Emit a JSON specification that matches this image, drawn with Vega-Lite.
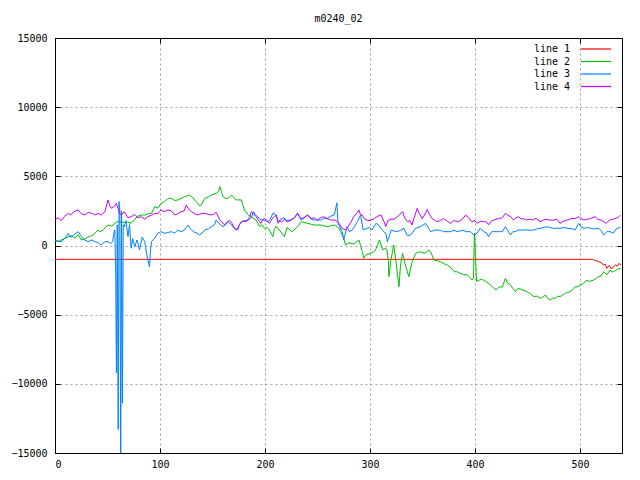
{
  "$schema": "https://vega.github.io/schema/vega-lite/v6.json",
  "width": 567,
  "height": 415,
  "autosize": "none",
  "padding": {"left": 55, "top": 38, "right": 18, "bottom": 27},
  "background": "white",
  "title": {"text": "m0240_02", "font": "DejaVu Sans Mono", "fontSize": 10, "fontWeight": "normal", "color": "black", "offset": 9},
  "config": {
    "view": {"stroke": "black", "strokeWidth": 1},
    "axis": {
      "labelFont": "DejaVu Sans Mono", "labelFontSize": 10, "labelColor": "black",
      "domainColor": "black", "tickColor": "black", "tickSize": -5,
      "gridColor": "#a0a0a0", "gridDash": [2, 3], "gridWidth": 1, "title": null
    },
    "legend": {"labelFont": "DejaVu Sans Mono", "labelFontSize": 10, "labelColor": "black", "padding": 0}
  },
  "data": {"values": [
      {"s": "line 1", "x": 0, "y": -1000}, {"s": "line 1", "x": 512, "y": -1000}, {"s": "line 1", "x": 515, "y": -1100}, {"s": "line 1", "x": 518, "y": -1170},
      {"s": "line 1", "x": 520, "y": -1250}, {"s": "line 1", "x": 522.5, "y": -1410}, {"s": "line 1", "x": 524, "y": -1350}, {"s": "line 1", "x": 525.5, "y": -1650},
      {"s": "line 1", "x": 528, "y": -1450}, {"s": "line 1", "x": 530, "y": -1700}, {"s": "line 1", "x": 532, "y": -1530}, {"s": "line 1", "x": 534, "y": -1400},
      {"s": "line 1", "x": 535.5, "y": -1500}, {"s": "line 1", "x": 537, "y": -1300}, {"s": "line 1", "x": 539, "y": -1400},
      {"s": "line 2", "x": 0, "y": 350}, {"s": "line 2", "x": 3, "y": 300}, {"s": "line 2", "x": 6, "y": 400}, {"s": "line 2", "x": 9, "y": 500}, {"s": "line 2", "x": 12.7, "y": 640},
      {"s": "line 2", "x": 16, "y": 700}, {"s": "line 2", "x": 19, "y": 520}, {"s": "line 2", "x": 22, "y": 800}, {"s": "line 2", "x": 25, "y": 400}, {"s": "line 2", "x": 28, "y": 450},
      {"s": "line 2", "x": 31.6, "y": 640}, {"s": "line 2", "x": 35, "y": 700}, {"s": "line 2", "x": 38, "y": 880}, {"s": "line 2", "x": 41, "y": 1120}, {"s": "line 2", "x": 43, "y": 1000},
      {"s": "line 2", "x": 46, "y": 1150}, {"s": "line 2", "x": 50.5, "y": 1480}, {"s": "line 2", "x": 54, "y": 1400}, {"s": "line 2", "x": 57, "y": 1600}, {"s": "line 2", "x": 60, "y": 1750},
      {"s": "line 2", "x": 63, "y": 1700}, {"s": "line 2", "x": 66, "y": 1650}, {"s": "line 2", "x": 69, "y": 1700}, {"s": "line 2", "x": 72.5, "y": 1600}, {"s": "line 2", "x": 76, "y": 1900},
      {"s": "line 2", "x": 79, "y": 2130}, {"s": "line 2", "x": 82, "y": 2200}, {"s": "line 2", "x": 85.5, "y": 2200}, {"s": "line 2", "x": 89, "y": 2300}, {"s": "line 2", "x": 92, "y": 2328},
      {"s": "line 2", "x": 95, "y": 2806}, {"s": "line 2", "x": 98, "y": 2700}, {"s": "line 2", "x": 101, "y": 3050}, {"s": "line 2", "x": 104.5, "y": 3170}, {"s": "line 2", "x": 107.5, "y": 3410},
      {"s": "line 2", "x": 110.8, "y": 3410}, {"s": "line 2", "x": 114, "y": 3250}, {"s": "line 2", "x": 117, "y": 3290}, {"s": "line 2", "x": 120, "y": 3400}, {"s": "line 2", "x": 123.5, "y": 3530},
      {"s": "line 2", "x": 128, "y": 3650}, {"s": "line 2", "x": 130.5, "y": 3500}, {"s": "line 2", "x": 133, "y": 3290}, {"s": "line 2", "x": 135.5, "y": 3100}, {"s": "line 2", "x": 137.7, "y": 2850},
      {"s": "line 2", "x": 140, "y": 3000}, {"s": "line 2", "x": 142.5, "y": 3410}, {"s": "line 2", "x": 146, "y": 3500}, {"s": "line 2", "x": 149, "y": 3650}, {"s": "line 2", "x": 153.5, "y": 3770},
      {"s": "line 2", "x": 155.5, "y": 3900}, {"s": "line 2", "x": 157, "y": 4250}, {"s": "line 2", "x": 160, "y": 3530}, {"s": "line 2", "x": 162.5, "y": 3400}, {"s": "line 2", "x": 165, "y": 3410},
      {"s": "line 2", "x": 168, "y": 3650}, {"s": "line 2", "x": 170, "y": 3500}, {"s": "line 2", "x": 172.5, "y": 3290}, {"s": "line 2", "x": 175, "y": 3300}, {"s": "line 2", "x": 177.5, "y": 3290},
      {"s": "line 2", "x": 180.5, "y": 2567}, {"s": "line 2", "x": 184, "y": 2205}, {"s": "line 2", "x": 187, "y": 2085}, {"s": "line 2", "x": 191.5, "y": 1840}, {"s": "line 2", "x": 195, "y": 1360},
      {"s": "line 2", "x": 197, "y": 1500}, {"s": "line 2", "x": 199.4, "y": 1240}, {"s": "line 2", "x": 202, "y": 1300}, {"s": "line 2", "x": 204, "y": 1120}, {"s": "line 2", "x": 207.5, "y": 640},
      {"s": "line 2", "x": 209, "y": 1200}, {"s": "line 2", "x": 210.5, "y": 1400}, {"s": "line 2", "x": 213.5, "y": 1120}, {"s": "line 2", "x": 216, "y": 900}, {"s": "line 2", "x": 218.5, "y": 640},
      {"s": "line 2", "x": 221, "y": 1300}, {"s": "line 2", "x": 226, "y": 1000}, {"s": "line 2", "x": 231, "y": 1360}, {"s": "line 2", "x": 234.5, "y": 1720}, {"s": "line 2", "x": 240.6, "y": 1600},
      {"s": "line 2", "x": 247, "y": 1480}, {"s": "line 2", "x": 253, "y": 1480}, {"s": "line 2", "x": 259, "y": 1360}, {"s": "line 2", "x": 266, "y": 1480}, {"s": "line 2", "x": 270, "y": 1300},
      {"s": "line 2", "x": 272, "y": 1000}, {"s": "line 2", "x": 275, "y": 500}, {"s": "line 2", "x": 276.7, "y": 36}, {"s": "line 2", "x": 280, "y": 200}, {"s": "line 2", "x": 284.5, "y": 100},
      {"s": "line 2", "x": 289.5, "y": 400}, {"s": "line 2", "x": 291, "y": 0}, {"s": "line 2", "x": 292.6, "y": -445}, {"s": "line 2", "x": 294, "y": -930}, {"s": "line 2", "x": 296, "y": -700},
      {"s": "line 2", "x": 299, "y": -600}, {"s": "line 2", "x": 304, "y": -450}, {"s": "line 2", "x": 306, "y": -200}, {"s": "line 2", "x": 309, "y": 400}, {"s": "line 2", "x": 312, "y": -300},
      {"s": "line 2", "x": 315, "y": -200}, {"s": "line 2", "x": 316, "y": -300}, {"s": "line 2", "x": 317.5, "y": -1100}, {"s": "line 2", "x": 318, "y": -2255}, {"s": "line 2", "x": 320, "y": -1000},
      {"s": "line 2", "x": 321.3, "y": -500}, {"s": "line 2", "x": 322.5, "y": 36}, {"s": "line 2", "x": 324.5, "y": -1000}, {"s": "line 2", "x": 326, "y": -2000}, {"s": "line 2", "x": 327.6, "y": -2980},
      {"s": "line 2", "x": 329, "y": -1500}, {"s": "line 2", "x": 331, "y": -565}, {"s": "line 2", "x": 334, "y": -1500}, {"s": "line 2", "x": 337, "y": -2255}, {"s": "line 2", "x": 340, "y": -1200},
      {"s": "line 2", "x": 343.5, "y": -565}, {"s": "line 2", "x": 348, "y": -450}, {"s": "line 2", "x": 352, "y": -565}, {"s": "line 2", "x": 356, "y": -325}, {"s": "line 2", "x": 358, "y": -500},
      {"s": "line 2", "x": 361, "y": -1050}, {"s": "line 2", "x": 364, "y": -1100}, {"s": "line 2", "x": 367, "y": -1170}, {"s": "line 2", "x": 370, "y": -1300}, {"s": "line 2", "x": 373.5, "y": -1410},
      {"s": "line 2", "x": 377, "y": -1600}, {"s": "line 2", "x": 380, "y": -1895}, {"s": "line 2", "x": 383, "y": -1900}, {"s": "line 2", "x": 386, "y": -2015}, {"s": "line 2", "x": 389, "y": -2100},
      {"s": "line 2", "x": 392.6, "y": -2130}, {"s": "line 2", "x": 395, "y": -2300}, {"s": "line 2", "x": 397, "y": -2500}, {"s": "line 2", "x": 398.5, "y": -2400}, {"s": "line 2", "x": 399.5, "y": 900},
      {"s": "line 2", "x": 400.5, "y": -800}, {"s": "line 2", "x": 401.5, "y": -2600}, {"s": "line 2", "x": 404, "y": -2500}, {"s": "line 2", "x": 406, "y": -2450}, {"s": "line 2", "x": 408.4, "y": -2500},
      {"s": "line 2", "x": 410, "y": -2600}, {"s": "line 2", "x": 413, "y": -2740}, {"s": "line 2", "x": 415.5, "y": -2900}, {"s": "line 2", "x": 418, "y": -3095}, {"s": "line 2", "x": 420, "y": -3200},
      {"s": "line 2", "x": 422.7, "y": -3000}, {"s": "line 2", "x": 426, "y": -3000}, {"s": "line 2", "x": 429, "y": -2370}, {"s": "line 2", "x": 431, "y": -2700}, {"s": "line 2", "x": 433.7, "y": -2850},
      {"s": "line 2", "x": 436, "y": -3100}, {"s": "line 2", "x": 438.4, "y": -3335}, {"s": "line 2", "x": 441, "y": -3100}, {"s": "line 2", "x": 445, "y": -3200}, {"s": "line 2", "x": 449.5, "y": -3340},
      {"s": "line 2", "x": 453, "y": -3500}, {"s": "line 2", "x": 456, "y": -3700}, {"s": "line 2", "x": 459, "y": -3650}, {"s": "line 2", "x": 462, "y": -3820}, {"s": "line 2", "x": 464.5, "y": -3750},
      {"s": "line 2", "x": 467, "y": -3580}, {"s": "line 2", "x": 469, "y": -3800}, {"s": "line 2", "x": 471.7, "y": -3940}, {"s": "line 2", "x": 474, "y": -3800}, {"s": "line 2", "x": 476.5, "y": -3820},
      {"s": "line 2", "x": 479, "y": -3650}, {"s": "line 2", "x": 481, "y": -3700}, {"s": "line 2", "x": 484, "y": -3550}, {"s": "line 2", "x": 486, "y": -3460}, {"s": "line 2", "x": 488, "y": -3400},
      {"s": "line 2", "x": 490.7, "y": -3340}, {"s": "line 2", "x": 493, "y": -3200}, {"s": "line 2", "x": 495.5, "y": -2980}, {"s": "line 2", "x": 498, "y": -3000}, {"s": "line 2", "x": 500, "y": -2860},
      {"s": "line 2", "x": 503, "y": -2750}, {"s": "line 2", "x": 506.6, "y": -2500}, {"s": "line 2", "x": 509, "y": -2600}, {"s": "line 2", "x": 512.8, "y": -2500}, {"s": "line 2", "x": 515, "y": -2400},
      {"s": "line 2", "x": 517.6, "y": -2255}, {"s": "line 2", "x": 520, "y": -2200}, {"s": "line 2", "x": 522.5, "y": -1895}, {"s": "line 2", "x": 524, "y": -2000}, {"s": "line 2", "x": 525.5, "y": -2130},
      {"s": "line 2", "x": 528.6, "y": -1770}, {"s": "line 2", "x": 530, "y": -1900}, {"s": "line 2", "x": 531.8, "y": -1895}, {"s": "line 2", "x": 534, "y": -1800}, {"s": "line 2", "x": 536, "y": -1700},
      {"s": "line 2", "x": 538.5, "y": -1650},
      {"s": "line 3", "x": 0, "y": 400}, {"s": "line 3", "x": 3, "y": 300}, {"s": "line 3", "x": 6, "y": 280}, {"s": "line 3", "x": 9, "y": 500}, {"s": "line 3", "x": 12.7, "y": 880},
      {"s": "line 3", "x": 15, "y": 600}, {"s": "line 3", "x": 17.4, "y": 700}, {"s": "line 3", "x": 20, "y": 900}, {"s": "line 3", "x": 22, "y": 1000}, {"s": "line 3", "x": 24, "y": 800},
      {"s": "line 3", "x": 25.3, "y": 640}, {"s": "line 3", "x": 28, "y": 400}, {"s": "line 3", "x": 31.6, "y": 280}, {"s": "line 3", "x": 35, "y": 400}, {"s": "line 3", "x": 38, "y": 280},
      {"s": "line 3", "x": 41, "y": 200}, {"s": "line 3", "x": 44, "y": 36}, {"s": "line 3", "x": 47, "y": 250}, {"s": "line 3", "x": 50.5, "y": 280}, {"s": "line 3", "x": 53, "y": 150},
      {"s": "line 3", "x": 55, "y": 280}, {"s": "line 3", "x": 56, "y": 900}, {"s": "line 3", "x": 57, "y": 1120}, {"s": "line 3", "x": 57.8, "y": -2000}, {"s": "line 3", "x": 58.5, "y": -9200},
      {"s": "line 3", "x": 59.3, "y": 1500}, {"s": "line 3", "x": 60.2, "y": -13300}, {"s": "line 3", "x": 61, "y": 3170}, {"s": "line 3", "x": 61.8, "y": 2500}, {"s": "line 3", "x": 62.6, "y": -15500},
      {"s": "line 3", "x": 63.4, "y": 2500}, {"s": "line 3", "x": 64.2, "y": -11400}, {"s": "line 3", "x": 65, "y": 1500}, {"s": "line 3", "x": 66, "y": 1360}, {"s": "line 3", "x": 67.5, "y": 1800},
      {"s": "line 3", "x": 69.5, "y": 640}, {"s": "line 3", "x": 71, "y": 1500}, {"s": "line 3", "x": 72.5, "y": -200}, {"s": "line 3", "x": 74, "y": 500}, {"s": "line 3", "x": 76, "y": -100},
      {"s": "line 3", "x": 78, "y": 400}, {"s": "line 3", "x": 80.5, "y": -300}, {"s": "line 3", "x": 83, "y": 600}, {"s": "line 3", "x": 85.5, "y": 280}, {"s": "line 3", "x": 87, "y": -500},
      {"s": "line 3", "x": 88.5, "y": -1050}, {"s": "line 3", "x": 90, "y": -1530}, {"s": "line 3", "x": 91, "y": -300}, {"s": "line 3", "x": 92, "y": 300}, {"s": "line 3", "x": 95, "y": 520},
      {"s": "line 3", "x": 98, "y": 900}, {"s": "line 3", "x": 101, "y": 1000}, {"s": "line 3", "x": 104.5, "y": 880}, {"s": "line 3", "x": 107.5, "y": 940}, {"s": "line 3", "x": 110.8, "y": 1000},
      {"s": "line 3", "x": 114, "y": 900}, {"s": "line 3", "x": 117, "y": 1120}, {"s": "line 3", "x": 120, "y": 1000}, {"s": "line 3", "x": 123, "y": 1100}, {"s": "line 3", "x": 126.6, "y": 1480},
      {"s": "line 3", "x": 129, "y": 1200}, {"s": "line 3", "x": 132, "y": 1000}, {"s": "line 3", "x": 135, "y": 900}, {"s": "line 3", "x": 137.7, "y": 760}, {"s": "line 3", "x": 140, "y": 900},
      {"s": "line 3", "x": 142.5, "y": 1120}, {"s": "line 3", "x": 146, "y": 1200}, {"s": "line 3", "x": 149, "y": 1360}, {"s": "line 3", "x": 152, "y": 1500}, {"s": "line 3", "x": 153.5, "y": 1840},
      {"s": "line 3", "x": 156, "y": 1600}, {"s": "line 3", "x": 160, "y": 1360}, {"s": "line 3", "x": 162.5, "y": 1500}, {"s": "line 3", "x": 165, "y": 1720}, {"s": "line 3", "x": 168, "y": 1480},
      {"s": "line 3", "x": 170, "y": 1300}, {"s": "line 3", "x": 172.5, "y": 1120}, {"s": "line 3", "x": 175, "y": 1400}, {"s": "line 3", "x": 177.5, "y": 1720}, {"s": "line 3", "x": 181, "y": 1800},
      {"s": "line 3", "x": 184, "y": 1840}, {"s": "line 3", "x": 187, "y": 2000}, {"s": "line 3", "x": 189, "y": 2444}, {"s": "line 3", "x": 191, "y": 2200}, {"s": "line 3", "x": 193, "y": 2085},
      {"s": "line 3", "x": 195, "y": 1900}, {"s": "line 3", "x": 198, "y": 1840}, {"s": "line 3", "x": 200, "y": 1800}, {"s": "line 3", "x": 202.5, "y": 1720}, {"s": "line 3", "x": 205, "y": 1900},
      {"s": "line 3", "x": 207.5, "y": 2328}, {"s": "line 3", "x": 209, "y": 2328}, {"s": "line 3", "x": 210.5, "y": 2085}, {"s": "line 3", "x": 213, "y": 1720}, {"s": "line 3", "x": 215, "y": 1900},
      {"s": "line 3", "x": 218, "y": 2000}, {"s": "line 3", "x": 221, "y": 1800}, {"s": "line 3", "x": 224.7, "y": 1840}, {"s": "line 3", "x": 228, "y": 2000}, {"s": "line 3", "x": 231, "y": 2328},
      {"s": "line 3", "x": 234.5, "y": 1840}, {"s": "line 3", "x": 237, "y": 2000}, {"s": "line 3", "x": 240.6, "y": 2205}, {"s": "line 3", "x": 244, "y": 1900}, {"s": "line 3", "x": 247, "y": 1840},
      {"s": "line 3", "x": 250, "y": 1840}, {"s": "line 3", "x": 253.5, "y": 1840}, {"s": "line 3", "x": 256, "y": 1950}, {"s": "line 3", "x": 259, "y": 1950}, {"s": "line 3", "x": 262, "y": 2100},
      {"s": "line 3", "x": 266, "y": 2205}, {"s": "line 3", "x": 268.5, "y": 3090}, {"s": "line 3", "x": 269.5, "y": 1600}, {"s": "line 3", "x": 271, "y": 1400}, {"s": "line 3", "x": 273.5, "y": 1000},
      {"s": "line 3", "x": 275, "y": 400}, {"s": "line 3", "x": 278, "y": 1360}, {"s": "line 3", "x": 280.5, "y": 1000}, {"s": "line 3", "x": 283, "y": 1120}, {"s": "line 3", "x": 285.5, "y": 1400},
      {"s": "line 3", "x": 288, "y": 1720}, {"s": "line 3", "x": 291, "y": 2205}, {"s": "line 3", "x": 293.5, "y": 1120}, {"s": "line 3", "x": 297, "y": 1240}, {"s": "line 3", "x": 299.5, "y": 1300},
      {"s": "line 3", "x": 302, "y": 1120}, {"s": "line 3", "x": 305.6, "y": 1600}, {"s": "line 3", "x": 308, "y": 1500}, {"s": "line 3", "x": 310.5, "y": 1240}, {"s": "line 3", "x": 313, "y": 1000},
      {"s": "line 3", "x": 315, "y": 900}, {"s": "line 3", "x": 316.6, "y": 275}, {"s": "line 3", "x": 318.5, "y": 700}, {"s": "line 3", "x": 320, "y": 1100}, {"s": "line 3", "x": 326, "y": 1000},
      {"s": "line 3", "x": 329, "y": 1100}, {"s": "line 3", "x": 332.4, "y": 1240}, {"s": "line 3", "x": 335.5, "y": 700}, {"s": "line 3", "x": 338.7, "y": 760}, {"s": "line 3", "x": 343.5, "y": 1240},
      {"s": "line 3", "x": 348, "y": 1360}, {"s": "line 3", "x": 353, "y": 1600}, {"s": "line 3", "x": 357.7, "y": 1000}, {"s": "line 3", "x": 362, "y": 1120}, {"s": "line 3", "x": 367, "y": 1100},
      {"s": "line 3", "x": 370, "y": 1000}, {"s": "line 3", "x": 376.7, "y": 1000}, {"s": "line 3", "x": 380, "y": 1100}, {"s": "line 3", "x": 383, "y": 1000}, {"s": "line 3", "x": 388, "y": 1100},
      {"s": "line 3", "x": 392, "y": 1000}, {"s": "line 3", "x": 395.5, "y": 1000}, {"s": "line 3", "x": 399, "y": 760}, {"s": "line 3", "x": 402, "y": 900}, {"s": "line 3", "x": 405, "y": 1240},
      {"s": "line 3", "x": 408.4, "y": 1000}, {"s": "line 3", "x": 411, "y": 900}, {"s": "line 3", "x": 413, "y": 640}, {"s": "line 3", "x": 416, "y": 1000}, {"s": "line 3", "x": 419, "y": 1000},
      {"s": "line 3", "x": 422.7, "y": 1000}, {"s": "line 3", "x": 426, "y": 1000}, {"s": "line 3", "x": 429, "y": 1360}, {"s": "line 3", "x": 431, "y": 1100}, {"s": "line 3", "x": 433.7, "y": 760},
      {"s": "line 3", "x": 436, "y": 1000}, {"s": "line 3", "x": 438.4, "y": 1000}, {"s": "line 3", "x": 441, "y": 1120}, {"s": "line 3", "x": 445, "y": 1120}, {"s": "line 3", "x": 449.5, "y": 1120},
      {"s": "line 3", "x": 453, "y": 1100}, {"s": "line 3", "x": 456, "y": 1120}, {"s": "line 3", "x": 459, "y": 1200}, {"s": "line 3", "x": 462, "y": 1240}, {"s": "line 3", "x": 465, "y": 1300},
      {"s": "line 3", "x": 468, "y": 1360}, {"s": "line 3", "x": 471, "y": 1300}, {"s": "line 3", "x": 475, "y": 1240}, {"s": "line 3", "x": 479, "y": 1250}, {"s": "line 3", "x": 481, "y": 1240},
      {"s": "line 3", "x": 485, "y": 1300}, {"s": "line 3", "x": 489, "y": 1240}, {"s": "line 3", "x": 493, "y": 1200}, {"s": "line 3", "x": 495.5, "y": 1120}, {"s": "line 3", "x": 498.7, "y": 1600},
      {"s": "line 3", "x": 501, "y": 1350}, {"s": "line 3", "x": 504, "y": 1240}, {"s": "line 3", "x": 507, "y": 1300}, {"s": "line 3", "x": 510, "y": 1240}, {"s": "line 3", "x": 513, "y": 1200},
      {"s": "line 3", "x": 517.6, "y": 1240}, {"s": "line 3", "x": 520, "y": 1100}, {"s": "line 3", "x": 522.5, "y": 760}, {"s": "line 3", "x": 525.5, "y": 1000}, {"s": "line 3", "x": 528.6, "y": 1000},
      {"s": "line 3", "x": 531.8, "y": 900}, {"s": "line 3", "x": 535, "y": 1240}, {"s": "line 3", "x": 538.5, "y": 1300},
      {"s": "line 4", "x": 0, "y": 1894}, {"s": "line 4", "x": 3, "y": 2000}, {"s": "line 4", "x": 6, "y": 1800}, {"s": "line 4", "x": 9, "y": 2100}, {"s": "line 4", "x": 12.7, "y": 2328},
      {"s": "line 4", "x": 15, "y": 2200}, {"s": "line 4", "x": 18, "y": 2450}, {"s": "line 4", "x": 22, "y": 2567}, {"s": "line 4", "x": 25, "y": 2300}, {"s": "line 4", "x": 28.5, "y": 2205},
      {"s": "line 4", "x": 31.6, "y": 2400}, {"s": "line 4", "x": 35, "y": 2328}, {"s": "line 4", "x": 38, "y": 2200}, {"s": "line 4", "x": 41, "y": 2328}, {"s": "line 4", "x": 44, "y": 2200},
      {"s": "line 4", "x": 47.5, "y": 2444}, {"s": "line 4", "x": 50.5, "y": 3290}, {"s": "line 4", "x": 52, "y": 2900}, {"s": "line 4", "x": 53.8, "y": 2688}, {"s": "line 4", "x": 56, "y": 2800},
      {"s": "line 4", "x": 58.5, "y": 3050}, {"s": "line 4", "x": 60, "y": 2700}, {"s": "line 4", "x": 61.7, "y": 2300}, {"s": "line 4", "x": 63, "y": 2205}, {"s": "line 4", "x": 66, "y": 2444},
      {"s": "line 4", "x": 69.5, "y": 2000}, {"s": "line 4", "x": 73, "y": 2100}, {"s": "line 4", "x": 76, "y": 2250}, {"s": "line 4", "x": 79, "y": 2000}, {"s": "line 4", "x": 82, "y": 2085},
      {"s": "line 4", "x": 85.5, "y": 1900}, {"s": "line 4", "x": 88.5, "y": 2085}, {"s": "line 4", "x": 92, "y": 2200}, {"s": "line 4", "x": 95, "y": 2328}, {"s": "line 4", "x": 98, "y": 2300},
      {"s": "line 4", "x": 101, "y": 2567}, {"s": "line 4", "x": 104.5, "y": 2444}, {"s": "line 4", "x": 107.5, "y": 2567}, {"s": "line 4", "x": 110.8, "y": 2500}, {"s": "line 4", "x": 114, "y": 2205},
      {"s": "line 4", "x": 117, "y": 2300}, {"s": "line 4", "x": 120, "y": 2444}, {"s": "line 4", "x": 123, "y": 2500}, {"s": "line 4", "x": 125, "y": 2928}, {"s": "line 4", "x": 127.5, "y": 2600},
      {"s": "line 4", "x": 130, "y": 2444}, {"s": "line 4", "x": 133, "y": 2300}, {"s": "line 4", "x": 136, "y": 2205}, {"s": "line 4", "x": 139, "y": 2300}, {"s": "line 4", "x": 142.5, "y": 2328},
      {"s": "line 4", "x": 146, "y": 2250}, {"s": "line 4", "x": 149, "y": 2205}, {"s": "line 4", "x": 152, "y": 2300}, {"s": "line 4", "x": 153.5, "y": 2400}, {"s": "line 4", "x": 157, "y": 1840},
      {"s": "line 4", "x": 159, "y": 1700}, {"s": "line 4", "x": 161.5, "y": 1480}, {"s": "line 4", "x": 164, "y": 1700}, {"s": "line 4", "x": 166, "y": 1840}, {"s": "line 4", "x": 168.5, "y": 1600},
      {"s": "line 4", "x": 171, "y": 1240}, {"s": "line 4", "x": 174, "y": 1120}, {"s": "line 4", "x": 175.5, "y": 1500}, {"s": "line 4", "x": 177.5, "y": 1720}, {"s": "line 4", "x": 180, "y": 1750},
      {"s": "line 4", "x": 182, "y": 1720}, {"s": "line 4", "x": 185, "y": 2000}, {"s": "line 4", "x": 187, "y": 2444}, {"s": "line 4", "x": 189, "y": 2300}, {"s": "line 4", "x": 191.5, "y": 2085},
      {"s": "line 4", "x": 194, "y": 1800}, {"s": "line 4", "x": 196, "y": 1600}, {"s": "line 4", "x": 198, "y": 1900}, {"s": "line 4", "x": 199.4, "y": 1950}, {"s": "line 4", "x": 202, "y": 1800},
      {"s": "line 4", "x": 204, "y": 1600}, {"s": "line 4", "x": 206.5, "y": 1900}, {"s": "line 4", "x": 209, "y": 2085}, {"s": "line 4", "x": 211, "y": 2205}, {"s": "line 4", "x": 212.5, "y": 1600},
      {"s": "line 4", "x": 214, "y": 1800}, {"s": "line 4", "x": 216, "y": 1700}, {"s": "line 4", "x": 218.5, "y": 1900}, {"s": "line 4", "x": 221, "y": 1700}, {"s": "line 4", "x": 224.7, "y": 1840},
      {"s": "line 4", "x": 228, "y": 2000}, {"s": "line 4", "x": 231, "y": 2328}, {"s": "line 4", "x": 234, "y": 1950}, {"s": "line 4", "x": 237, "y": 2000}, {"s": "line 4", "x": 240.6, "y": 2205},
      {"s": "line 4", "x": 244, "y": 1950}, {"s": "line 4", "x": 247, "y": 2000}, {"s": "line 4", "x": 250, "y": 1840}, {"s": "line 4", "x": 253, "y": 2000}, {"s": "line 4", "x": 256, "y": 2085},
      {"s": "line 4", "x": 259, "y": 1950}, {"s": "line 4", "x": 262.5, "y": 1840}, {"s": "line 4", "x": 267, "y": 1840}, {"s": "line 4", "x": 270.5, "y": 1600}, {"s": "line 4", "x": 273.5, "y": 1240},
      {"s": "line 4", "x": 276.7, "y": 1120}, {"s": "line 4", "x": 280, "y": 1480}, {"s": "line 4", "x": 282, "y": 1700}, {"s": "line 4", "x": 284.5, "y": 2085}, {"s": "line 4", "x": 287, "y": 2300},
      {"s": "line 4", "x": 289.5, "y": 2567}, {"s": "line 4", "x": 291, "y": 2200}, {"s": "line 4", "x": 292.6, "y": 2205}, {"s": "line 4", "x": 295, "y": 1900}, {"s": "line 4", "x": 297, "y": 1840},
      {"s": "line 4", "x": 300, "y": 1800}, {"s": "line 4", "x": 304, "y": 1950}, {"s": "line 4", "x": 307, "y": 2100}, {"s": "line 4", "x": 310.5, "y": 2205}, {"s": "line 4", "x": 313.4, "y": 1720},
      {"s": "line 4", "x": 315, "y": 1360}, {"s": "line 4", "x": 317, "y": 1800}, {"s": "line 4", "x": 320, "y": 1900}, {"s": "line 4", "x": 323, "y": 1900}, {"s": "line 4", "x": 326, "y": 2085},
      {"s": "line 4", "x": 328, "y": 2200}, {"s": "line 4", "x": 331, "y": 2444}, {"s": "line 4", "x": 333, "y": 2000}, {"s": "line 4", "x": 335.6, "y": 1720}, {"s": "line 4", "x": 338, "y": 1800},
      {"s": "line 4", "x": 340, "y": 1480}, {"s": "line 4", "x": 342, "y": 2000}, {"s": "line 4", "x": 345, "y": 2690}, {"s": "line 4", "x": 347, "y": 2300}, {"s": "line 4", "x": 349.7, "y": 1950},
      {"s": "line 4", "x": 352, "y": 2200}, {"s": "line 4", "x": 354.4, "y": 2600}, {"s": "line 4", "x": 357, "y": 2200}, {"s": "line 4", "x": 359, "y": 1950}, {"s": "line 4", "x": 364, "y": 1720},
      {"s": "line 4", "x": 367, "y": 1800}, {"s": "line 4", "x": 370, "y": 1950}, {"s": "line 4", "x": 373, "y": 1800}, {"s": "line 4", "x": 376.7, "y": 1600}, {"s": "line 4", "x": 380, "y": 1800},
      {"s": "line 4", "x": 384, "y": 1720}, {"s": "line 4", "x": 388, "y": 1900}, {"s": "line 4", "x": 391, "y": 2205}, {"s": "line 4", "x": 394, "y": 2000}, {"s": "line 4", "x": 397, "y": 1720},
      {"s": "line 4", "x": 400, "y": 1800}, {"s": "line 4", "x": 402, "y": 1600}, {"s": "line 4", "x": 405, "y": 1750}, {"s": "line 4", "x": 408.4, "y": 1720}, {"s": "line 4", "x": 411, "y": 1700},
      {"s": "line 4", "x": 413, "y": 1500}, {"s": "line 4", "x": 416, "y": 1800}, {"s": "line 4", "x": 418, "y": 1840}, {"s": "line 4", "x": 420, "y": 1900}, {"s": "line 4", "x": 423, "y": 1950},
      {"s": "line 4", "x": 426, "y": 2000}, {"s": "line 4", "x": 429, "y": 2328}, {"s": "line 4", "x": 431, "y": 2200}, {"s": "line 4", "x": 434, "y": 2085}, {"s": "line 4", "x": 436.6, "y": 1840},
      {"s": "line 4", "x": 439, "y": 2000}, {"s": "line 4", "x": 441.5, "y": 2085}, {"s": "line 4", "x": 444, "y": 1900}, {"s": "line 4", "x": 446, "y": 1950}, {"s": "line 4", "x": 449, "y": 1840},
      {"s": "line 4", "x": 452, "y": 1900}, {"s": "line 4", "x": 455, "y": 1840}, {"s": "line 4", "x": 458, "y": 1960}, {"s": "line 4", "x": 462, "y": 1720}, {"s": "line 4", "x": 465, "y": 1840},
      {"s": "line 4", "x": 468, "y": 1900}, {"s": "line 4", "x": 471, "y": 1840}, {"s": "line 4", "x": 475, "y": 1840}, {"s": "line 4", "x": 478, "y": 1900}, {"s": "line 4", "x": 481, "y": 1600},
      {"s": "line 4", "x": 484, "y": 1750}, {"s": "line 4", "x": 488, "y": 1840}, {"s": "line 4", "x": 492, "y": 1950}, {"s": "line 4", "x": 495.5, "y": 1950}, {"s": "line 4", "x": 498.7, "y": 2085},
      {"s": "line 4", "x": 501, "y": 1950}, {"s": "line 4", "x": 504, "y": 1840}, {"s": "line 4", "x": 507, "y": 1900}, {"s": "line 4", "x": 510, "y": 1950}, {"s": "line 4", "x": 514.5, "y": 2085},
      {"s": "line 4", "x": 517, "y": 1900}, {"s": "line 4", "x": 520, "y": 1840}, {"s": "line 4", "x": 523, "y": 1700}, {"s": "line 4", "x": 525, "y": 1600}, {"s": "line 4", "x": 528, "y": 1840},
      {"s": "line 4", "x": 531, "y": 1900}, {"s": "line 4", "x": 534, "y": 1950}, {"s": "line 4", "x": 537, "y": 2085}, {"s": "line 4", "x": 538.5, "y": 2200}
  ]},
  "layer": [
    {
      "mark": {"type": "line", "strokeWidth": 1, "clip": true},
      "encoding": {
        "x": {"field": "x", "type": "quantitative", "scale": {"domain": [0, 540], "nice": false, "zero": false},
              "axis": {"values": [0, 100, 200, 300, 400, 500], "format": "d", "labelPadding": 11,
                       "gridOpacity": {"condition": {"test": "datum.value == 0", "value": 0}, "value": 1}}},
        "y": {"field": "y", "type": "quantitative", "scale": {"domain": [-15000, 15000], "nice": false},
              "axis": {"values": [-15000, -10000, -5000, 0, 5000, 10000, 15000], "format": "d", "labelPadding": 13,
                       "gridOpacity": {"condition": {"test": "abs(datum.value) == 15000", "value": 0}, "value": 1}}},
        "color": {"field": "s", "type": "nominal",
          "scale": {"domain": ["line 1", "line 2", "line 3", "line 4"], "range": ["#ff0000", "#00c000", "#0080ff", "#c000ff"]},
          "legend": {"title": null, "orient": "none", "legendX": 534, "legendY": 4,
                     "symbolType": "M-2.5,0H2.5", "symbolSize": 144, "symbolStrokeWidth": 1.2, "symbolFillColor": "transparent",
                     "rowPadding": 0.5, "labelAlign": "right", "labelOffset": -33}}
      }
    },
    {
      "mark": {"type": "line", "opacity": 0, "clip": true},
      "encoding": {
        "x": {"field": "x", "type": "quantitative",
              "axis": {"orient": "top", "values": [0, 100, 200, 300, 400, 500], "labels": false, "grid": false, "domain": false}},
        "y": {"field": "y", "type": "quantitative",
              "axis": {"orient": "right", "values": [-15000, -10000, -5000, 0, 5000, 10000, 15000], "labels": false, "grid": false, "domain": false}},
        "detail": {"field": "s"}
      }
    }
  ],
  "resolve": {"axis": {"x": "independent", "y": "independent"}}
}
